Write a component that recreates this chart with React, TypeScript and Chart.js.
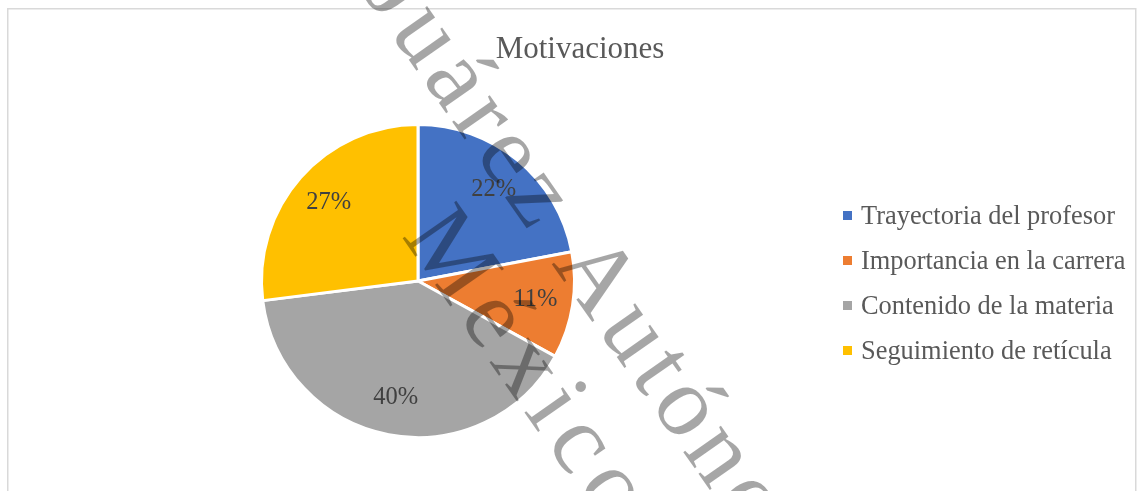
import React, { useEffect, useRef } from "react";
import { Chart, registerables } from "chart.js";

Chart.register(...registerables);

const chartTitle = "Motivaciones";
const categories = [
  "Trayectoria del profesor",
  "Importancia en la carrera",
  "Contenido de la materia",
  "Seguimiento de retícula",
];
const values = [22, 11, 40, 27];
const sliceColors = ["#4472C4", "#ED7D31", "#A5A5A5", "#FFC000"];
const watermarkLines = ["Juárez Autónoma", "México"];

const SERIF = '"Liberation Serif", "Times New Roman", serif';
const W = 1144;
const H = 500;

const framePlugin = {
  id: "frame",
  beforeDraw(chart: any) {
    const ctx = chart.ctx;
    ctx.save();
    ctx.fillStyle = "#ffffff";
    ctx.fillRect(0, 0, chart.width, chart.height);
    ctx.strokeStyle = "#d9d9d9";
    ctx.lineWidth = 1.5;
    ctx.strokeRect(7.75, 8.75, 1128, 700);
    ctx.restore();
  },
};

const sliceLabelPlugin = {
  id: "sliceLabels",
  afterDatasetsDraw(chart: any) {
    const ctx = chart.ctx;
    const meta = chart.getDatasetMeta(0);
    const data = chart.data.datasets[0].data;
    ctx.save();
    ctx.font = `24.5px ${SERIF}`;
    ctx.fillStyle = "#404040";
    ctx.textAlign = "center";
    ctx.textBaseline = "middle";
    meta.data.forEach((arc: any, i: number) => {
      const p = arc.getProps(["x", "y", "startAngle", "endAngle", "outerRadius"], true);
      const mid = (p.startAngle + p.endAngle) / 2;
      const r = p.outerRadius * 0.76;
      ctx.fillText(`${data[i]}%`, p.x + Math.cos(mid) * r, p.y + Math.sin(mid) * r);
    });
    ctx.restore();
  },
};

const titleLegendPlugin = {
  id: "titleLegend",
  afterDraw(chart: any) {
    const ctx = chart.ctx;
    ctx.save();
    ctx.fillStyle = "#595959";
    ctx.font = `31px ${SERIF}`;
    ctx.textAlign = "center";
    ctx.textBaseline = "alphabetic";
    ctx.fillText(chartTitle, 580, 58);

    const labels = chart.data.labels;
    const bg = chart.data.datasets[0].backgroundColor;
    ctx.font = `26.4px ${SERIF}`;
    ctx.textAlign = "left";
    labels.forEach((lab: string, i: number) => {
      const top = 211 + i * 45;
      ctx.fillStyle = bg[i];
      ctx.fillRect(843, top, 9, 9);
      ctx.fillStyle = "#595959";
      ctx.fillText(lab, 861, top + 12.5);
    });
    ctx.restore();
  },
};

const watermarkPlugin = {
  id: "watermark",
  afterDraw(chart: any) {
    const ctx = chart.ctx;
    const ang = (55 * Math.PI) / 180;
    const anchors = [
      [362.4, -6.3],
      [401, 236],
    ];
    const spacing = ["7px", "10px"];
    ctx.save();
    ctx.font = `100px ${SERIF}`;
    ctx.fillStyle = "rgba(0,0,0,0.35)";
    ctx.textBaseline = "alphabetic";
    ctx.textAlign = "left";
    watermarkLines.forEach((line, i) => {
      ctx.save();
      (ctx as any).letterSpacing = spacing[i];
      ctx.translate(anchors[i][0], anchors[i][1]);
      ctx.rotate(ang);
      ctx.fillText(line, 0, 0);
      ctx.restore();
    });
    ctx.restore();
  },
};

export default function App() {
  const canvasRef = useRef<HTMLCanvasElement | null>(null);

  useEffect(() => {
    document.documentElement.style.overflow = "hidden";
    const canvas = canvasRef.current;
    if (!canvas) return;
    const chart = new Chart(canvas, {
      type: "pie",
      data: {
        labels: categories,
        datasets: [
          {
            data: values,
            backgroundColor: sliceColors,
            borderColor: "#ffffff",
            borderWidth: 3,
          },
        ],
      },
      options: {
        responsive: false,
        animation: false,
        devicePixelRatio: 1,
        radius: 156.5,
        layout: { padding: { left: 0, right: 308, top: 81, bottom: 19 } },
        plugins: {
          legend: { display: false },
          title: { display: false },
          tooltip: { enabled: false },
        },
      } as any,
      plugins: [framePlugin, sliceLabelPlugin, titleLegendPlugin, watermarkPlugin],
    });
    return () => chart.destroy();
  }, []);

  return (
    <div style={{ position: "fixed", left: 0, top: 0, width: W, height: H, background: "#fff" }}>
      <canvas ref={canvasRef} width={W} height={H} style={{ display: "block", width: W, height: H }} />
    </div>
  );
}
